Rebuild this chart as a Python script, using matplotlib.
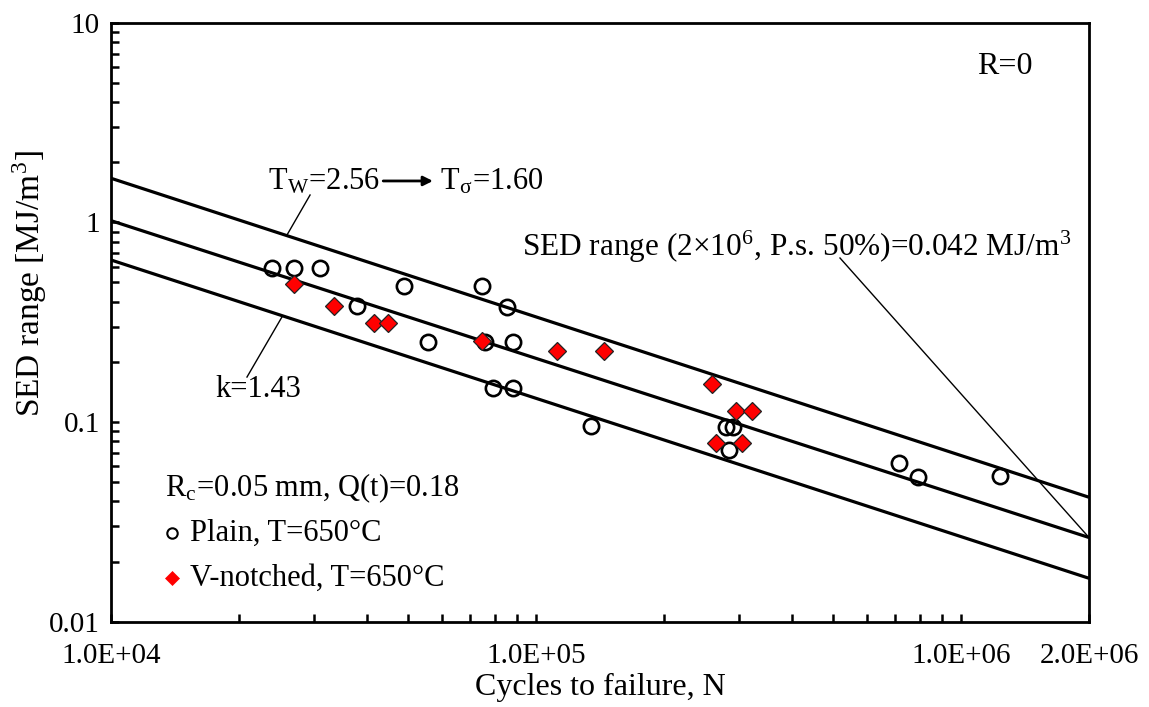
import matplotlib
matplotlib.use("Agg")
import matplotlib.pyplot as plt
from matplotlib.ticker import FixedLocator, FixedFormatter, NullFormatter

plt.rcParams['font.family'] = ['Liberation Serif', 'DejaVu Serif']
plt.rcParams['mathtext.fontset'] = 'stix'

# Fatigue data: cycles to failure and strain energy density range [MJ/m^3]
plain_cycles = [2.39e4, 2.70e4, 3.10e4, 3.79e4, 4.89e4, 5.57e4, 7.46e4, 7.59e4,
                8.53e4, 8.82e4, 7.91e4, 8.82e4, 1.345e5, 2.80e5, 2.90e5, 2.85e5,
                7.16e5, 7.93e5, 1.235e6]
plain_sed = [0.591, 0.591, 0.591, 0.381, 0.480, 0.252, 0.480, 0.252,
             0.378, 0.251, 0.1486, 0.1486, 0.0956, 0.0948, 0.0948, 0.0725,
             0.0626, 0.0533, 0.0537]

notched_cycles = [2.70e4, 3.35e4, 4.16e4, 4.49e4, 7.45e4, 1.119e5, 1.445e5,
                  2.60e5, 2.955e5, 3.22e5, 2.65e5, 3.05e5]
notched_sed = [0.490, 0.383, 0.315, 0.315, 0.256, 0.227, 0.227,
               0.1546, 0.1133, 0.1133, 0.0783, 0.0783]

# Scatter band (k = 1.43, T_W = 2.56)
band_cycles = [1e4, 2e6]
band_upper = [1.663, 0.042]
band_median = [1.02, 0.0264]
band_lower = [0.648, 0.0165]

x_major = [1e4, 1e5, 1e6, 2e6]
y_major = [0.01, 0.1, 1, 10]
y_major_labels = ['0.01', '0.1', '1', '10']

fig = plt.figure(figsize=(11.49, 7.07), dpi=100)
ax = fig.add_axes([111 / 1149, 1 - 621.7 / 707, (1089 - 111) / 1149, (621.7 - 22.7) / 707])
ax.set_xscale('log')
ax.set_yscale('log')
ax.set_xlim(1e4, 2e6)
ax.set_ylim(0.01, 10)

for vals in (band_upper, band_median, band_lower):
    ax.plot(band_cycles, vals, color='black', lw=2.3, solid_capstyle='butt', zorder=2)

ax.plot(plain_cycles, plain_sed, linestyle='none', marker='o', markersize=11,
        markerfacecolor='none', markeredgecolor='black', markeredgewidth=1.9, zorder=3)
ax.plot(notched_cycles, notched_sed, linestyle='none', marker='D', markersize=9,
        markerfacecolor='#ff0000', markeredgecolor='#222222', markeredgewidth=0.9, zorder=4)

# Axis ticks and labels
ax.xaxis.set_major_locator(FixedLocator(x_major))
ax.xaxis.set_major_formatter(FixedFormatter([f"{v:.1E}" for v in x_major]))
x_minor = [m * 10 ** e for e in (4, 5) for m in range(2, 10)]
ax.xaxis.set_minor_locator(FixedLocator(x_minor))
ax.xaxis.set_minor_formatter(NullFormatter())
ax.yaxis.set_major_locator(FixedLocator(y_major))
ax.yaxis.set_major_formatter(FixedFormatter(y_major_labels))
y_minor = [m * 10.0 ** e for e in (-2, -1, 0) for m in range(2, 10)]
ax.yaxis.set_minor_locator(FixedLocator(y_minor))
ax.yaxis.set_minor_formatter(NullFormatter())

ax.tick_params(which='both', direction='in', top=False, right=False,
               width=1.8, length=6, labelsize=21, color='black')
ax.tick_params(axis='x', which='major', pad=15)
ax.tick_params(axis='y', which='major', pad=8)
for sp in ax.spines.values():
    sp.set_linewidth(2.0)

ax.set_xlabel('Cycles to failure, N', fontsize=23, labelpad=3)
ax.set_ylabel('SED range [MJ/m$^\\mathregular{3}$]', fontsize=24, va='center')
ax.yaxis.set_label_coords(-0.083, 0.564)

fs = 22
ax.text(2.34e4, 1.593, 'T$_\\mathregular{W}$=2.56', fontsize=fs, va='center', ha='left')
ax.annotate('', xy=(5.72e4, 1.612), xytext=(4.37e4, 1.612),
            arrowprops=dict(arrowstyle='-|>', color='black', lw=2.0, mutation_scale=14,
                            shrinkA=0, shrinkB=0))
ax.text(5.94e4, 1.593, 'T$_\\mathregular{σ}$=1.60', fontsize=fs, va='center', ha='left')
ax.plot([2.94e4, 2.595e4], [1.371, 0.865], color='black', lw=1.0)

ax.text(1.757e4, 0.1448, 'k=1.43', fontsize=fs, va='center', ha='left')
ax.plot([2.525e4, 2.089e4], [0.336, 0.168], color='black', lw=1.0)

ax.text(1.27e6, 6.0, 'R=0', fontsize=23, va='center', ha='center')

ax.text(9.27e4, 0.753, 'SED range (2×10$^\\mathregular{6}$, P.s. 50%)=0.042 MJ/m$^\\mathregular{3}$',
        fontsize=22.5, va='center', ha='left')
ax.plot([5.19e5, band_cycles[1]], [0.663, band_median[1]], color='black', lw=1.0)

ax.text(1.34e4, 0.0468, 'R$_\\mathregular{c}$=0.05 mm, Q(t)=0.18', fontsize=fs, va='center', ha='left')
ax.plot([1.392e4], [0.0278], linestyle='none', marker='o', markersize=7.5,
        markerfacecolor='none', markeredgecolor='black', markeredgewidth=1.5)
ax.text(1.534e4, 0.0278, 'Plain, T=650°C', fontsize=fs, va='center', ha='left')
ax.plot([1.392e4], [0.01656], linestyle='none', marker='D', markersize=7.5,
        markerfacecolor='#ff0000', markeredgecolor='#ff0000', markeredgewidth=0.5)
ax.text(1.534e4, 0.01656, 'V-notched, T=650°C', fontsize=fs, va='center', ha='left')

fig.savefig('out.png', dpi=100)
